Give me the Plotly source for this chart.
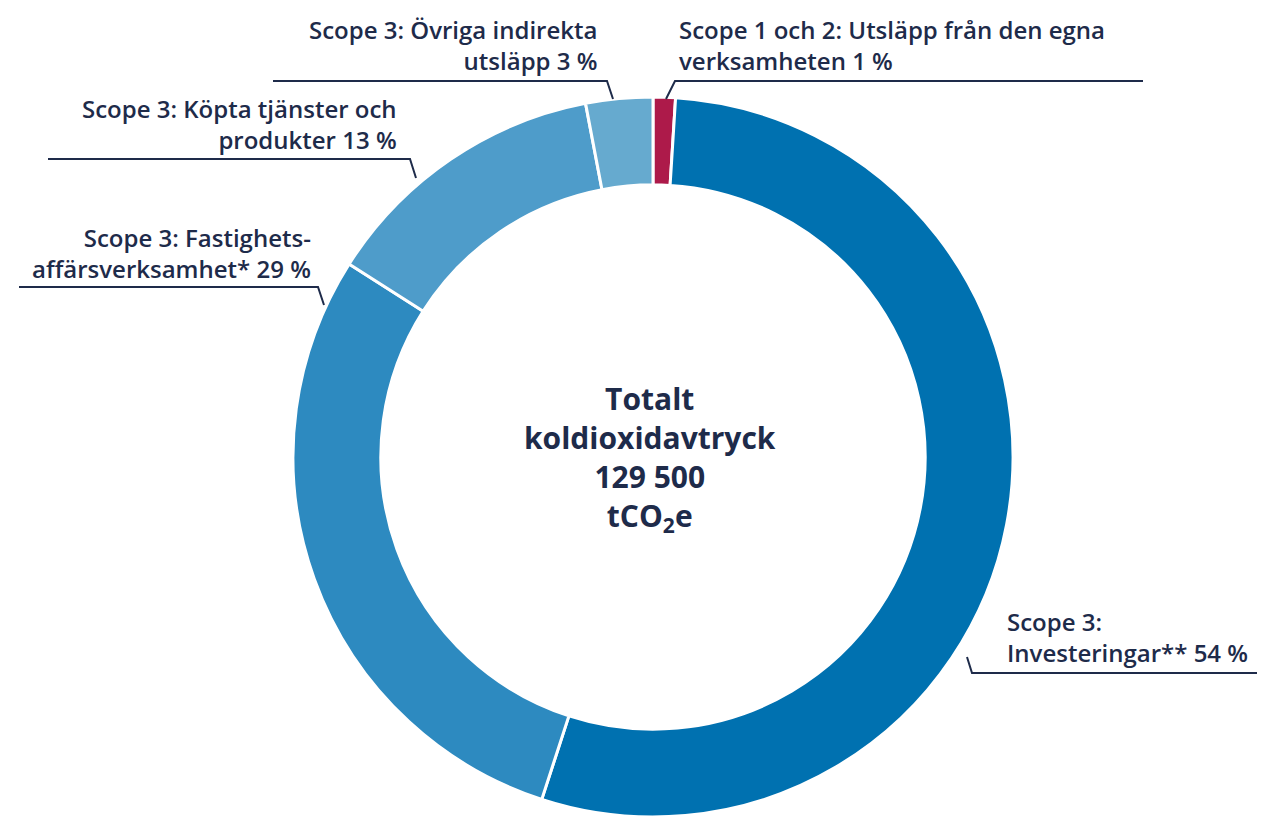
import plotly.graph_objects as go

# ---- data ----
segments = [
    "Scope 1 och 2: Utsläpp från den egna verksamheten",
    "Scope 3: Investeringar**",
    "Scope 3: Fastighetsaffärsverksamhet*",
    "Scope 3: Köpta tjänster och produkter",
    "Scope 3: Övriga indirekta utsläpp",
]
shares = [1, 54, 29, 13, 3]
label_texts = [
    "Scope 1 och 2: Utsläpp från den egna<br>verksamheten 1 %",
    "Scope 3:<br>Investeringar** 54 %",
    "Scope 3: Fastighets-<br>affärsverksamhet* 29 %",
    "Scope 3: Köpta tjänster och<br>produkter 13 %",
    "Scope 3: Övriga indirekta<br>utsläpp 3 %",
]
center_text = "Totalt<br>koldioxidavtryck<br>129 500<br>tCO<sub>2</sub>e"

# ---- styles ----
colors = ["#AD1A4A", "#0071B0", "#2D8AC0", "#4E9CCA", "#66AACF"]
NAVY = "#1E2B4A"
W, H = 1265, 817

def px(x):
    return x / W

def py(y):
    return 1 - y / H

fig = go.Figure(go.Pie(
    labels=segments,
    values=shares,
    sort=False,
    direction="clockwise",
    rotation=0,
    hole=0.756,
    marker=dict(colors=colors, line=dict(color="white", width=3)),
    textinfo="none",
    hoverinfo="skip",
    showlegend=False,
    domain=dict(x=[px(653 - 400), px(653 + 400)], y=[0, 720 / H]),
))

label_font = dict(family="Open Sans, sans-serif", size=24, color=NAVY, weight=600)

# annotation positions (pixel space) : (x, y_center, xanchor, align)
label_pos = [
    (677, 45, "left", "left"),
    (1005, 637, "left", "left"),
    (313, 253, "right", "right"),
    (399, 124, "right", "right"),
    (599, 45, "right", "right"),
]
annotations = []
for txt, (x, y, xa, al) in zip(label_texts, label_pos):
    annotations.append(dict(
        text=txt, x=px(x), y=py(y), xref="paper", yref="paper",
        xanchor=xa, yanchor="middle", align=al, showarrow=False,
        font=label_font,
    ))
annotations.append(dict(
    text=center_text, x=px(650), y=py(459), xref="paper", yref="paper",
    xanchor="center", yanchor="middle", align="center", showarrow=False,
    font=dict(family="Open Sans, sans-serif", size=30, color=NAVY, weight=700),
))

# leader lines (pixel space polylines)
leaders = [
    [(1143, 81), (675, 81), (666, 99)],
    [(1257, 673), (972, 673), (967, 657)],
    [(19, 287), (318, 287), (324, 305)],
    [(48, 159), (410, 159), (416, 178)],
    [(273, 81), (607, 81), (613, 99)],
]
shapes = []
for pts in leaders:
    path = "M " + " L ".join(f"{px(x)},{py(y)}" for x, y in pts)
    shapes.append(dict(type="path", path=path, xref="paper", yref="paper",
                       line=dict(color=NAVY, width=2)))

fig.update_layout(
    width=W, height=H,
    margin=dict(l=0, r=0, t=0, b=0),
    paper_bgcolor="white", plot_bgcolor="white",
    annotations=annotations,
    shapes=shapes,
)

fig.write_html("out.html")
